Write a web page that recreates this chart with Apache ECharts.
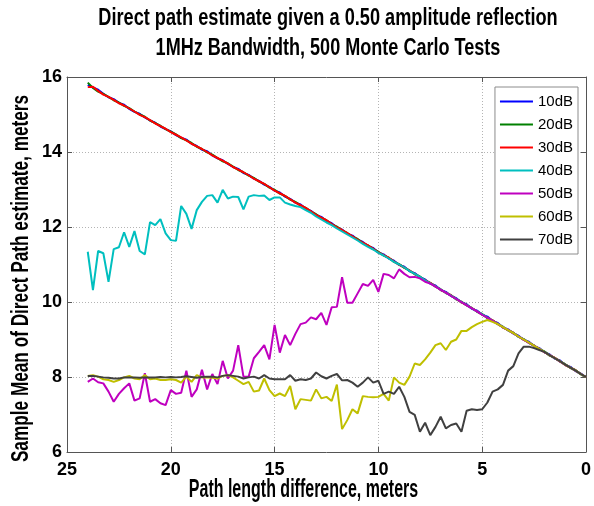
<!DOCTYPE html>
<html><head><meta charset="utf-8">
<script src="https://cdn.jsdelivr.net/npm/echarts@6/dist/echarts.min.js"></script>
<style>html,body{margin:0;padding:0;background:#fff}#c{width:594px;height:506px}</style>
</head><body><div id="c"></div>
<script>
// Path length difference (meters), one entry per Monte Carlo point
const pathDiff = [
  24,23.75,23.5,23.25,23,22.75,22.5,22.25,22,21.75,
  21.5,21.25,21,20.75,20.5,20.25,20,19.75,19.5,19.25,
  19,18.75,18.5,18.25,18,17.75,17.5,17.25,17,16.75,
  16.5,16.25,16,15.75,15.5,15.25,15,14.75,14.5,14.25,
  14,13.75,13.5,13.25,13,12.75,12.5,12.25,12,11.75,
  11.5,11.25,11,10.75,10.5,10.25,10,9.75,9.5,9.25,
  9,8.75,8.5,8.25,8,7.75,7.5,7.25,7,6.75,
  6.5,6.25,6,5.75,5.5,5.25,5,4.75,4.5,4.25,
  4,3.75,3.5,3.25,3,2.75,2.5,2.25,2,1.75,
  1.5,1.25,1,0.75,0.5,0.25,0
];
const snr10 = [
  15.79,15.72,15.66,15.55,15.46,15.41,15.31,15.26,15.15,15.07,
  15.02,14.92,14.84,14.78,14.68,14.61,14.55,14.45,14.38,14.33,
  14.22,14.16,14.06,14.02,13.91,13.83,13.78,13.68,13.60,13.55,
  13.44,13.39,13.29,13.23,13.13,13.07,12.97,12.92,12.81,12.75,
  12.65,12.60,12.49,12.43,12.32,12.27,12.16,12.10,11.99,11.93,
  11.82,11.77,11.66,11.60,11.49,11.44,11.32,11.27,11.16,11.10,
  10.99,10.94,10.82,10.77,10.66,10.60,10.49,10.44,10.32,10.27,
  10.16,10.10,9.99,9.94,9.82,9.77,9.66,9.61,9.49,9.44,
  9.32,9.27,9.16,9.10,8.99,8.94,8.82,8.77,8.66,8.60,
  8.49,8.44,8.32,8.27,8.16,8.09,8.00
];
const snr20 = [
  15.85,15.71,15.61,15.55,15.47,15.38,15.32,15.23,15.17,15.08,
  15.00,14.94,14.84,14.77,14.70,14.61,14.54,14.47,14.37,14.31,
  14.24,14.14,14.08,13.99,13.93,13.84,13.75,13.70,13.61,13.52,
  13.46,13.37,13.31,13.21,13.15,13.05,12.99,12.89,12.83,12.73,
  12.67,12.57,12.51,12.41,12.34,12.24,12.18,12.07,12.01,11.91,
  11.84,11.74,11.68,11.57,11.51,11.41,11.34,11.24,11.18,11.07,
  11.01,10.91,10.84,10.74,10.68,10.57,10.51,10.41,10.34,10.24,
  10.18,10.07,10.01,9.91,9.84,9.74,9.68,9.57,9.51,9.41,
  9.34,9.24,9.18,9.07,9.01,8.91,8.84,8.74,8.68,8.57,
  8.51,8.41,8.34,8.24,8.18,8.07,8.00
];
const snr30 = [
  15.73,15.74,15.63,15.53,15.47,15.39,15.30,15.24,15.16,15.08,
  14.99,14.93,14.85,14.76,14.69,14.62,14.53,14.46,14.39,14.31,
  14.22,14.15,14.08,14.00,13.91,13.84,13.77,13.69,13.60,13.53,
  13.46,13.38,13.29,13.22,13.15,13.06,12.97,12.90,12.83,12.74,
  12.65,12.58,12.51,12.42,12.32,12.25,12.18,12.08,11.99,11.92,
  11.84,11.75,11.66,11.58,11.51,11.42,11.32,11.25,11.18,11.08,
  10.99,10.92,10.84,10.75,10.66,10.58,10.51,10.42,10.32,10.25,
  10.18,10.08,9.99,9.92,9.84,9.75,9.66,9.58,9.51,9.42,
  9.32,9.25,9.18,9.08,8.99,8.92,8.84,8.75,8.66,8.58,
  8.51,8.42,8.32,8.25,8.18,8.08,8.00
];
const snr40 = [
  11.34,10.32,11.36,11.30,10.54,11.41,11.46,11.86,11.47,11.89,
  11.36,11.27,12.13,12.05,12.21,11.83,11.65,11.63,12.56,12.35,
  11.95,12.45,12.67,12.83,12.85,12.65,12.99,12.76,12.81,12.80,
  12.47,12.81,12.85,12.83,12.84,12.72,12.79,12.79,12.65,12.60,
  12.56,12.53,12.45,12.38,12.28,12.20,12.12,12.05,11.96,11.88,
  11.80,11.72,11.64,11.55,11.47,11.40,11.31,11.24,11.16,11.07,
  11.00,10.92,10.83,10.75,10.67,10.58,10.50,10.42,10.33,10.25,
  10.17,10.08,10.00,9.92,9.83,9.75,9.67,9.58,9.50,9.42,
  9.33,9.25,9.17,9.08,9.00,8.92,8.83,8.75,8.67,8.58,
  8.50,8.42,8.33,8.25,8.17,8.08,8.00
];
const snr50 = [
  7.87,7.96,7.86,7.83,7.61,7.34,7.55,7.70,7.83,7.37,
  7.43,8.10,7.34,7.41,7.30,7.25,7.65,7.55,7.58,8.17,
  7.47,7.67,8.19,7.67,8.08,7.81,8.43,7.96,8.17,8.85,
  8.01,8.01,8.50,8.67,8.85,8.47,9.39,8.65,9.12,8.85,
  9.15,9.41,9.45,9.59,9.54,9.71,9.39,9.86,9.87,10.66,
  9.98,9.98,10.23,10.48,10.43,10.59,10.27,10.75,10.72,10.63,
  10.87,10.75,10.66,10.67,10.63,10.54,10.49,10.41,10.33,10.25,
  10.16,10.08,10.00,9.91,9.83,9.75,9.66,9.58,9.50,9.41,
  9.33,9.25,9.16,9.08,9.00,8.91,8.83,8.75,8.66,8.58,
  8.50,8.41,8.33,8.25,8.16,8.08,8.00
];
const snr60 = [
  8.03,8.05,8.01,7.94,7.92,7.87,7.92,7.99,8.03,7.96,
  7.94,8.05,7.94,7.96,7.92,7.92,7.94,7.92,7.85,8.01,
  7.87,8.05,7.99,7.99,7.98,7.96,8.03,8.05,7.99,7.90,
  7.81,7.87,7.61,7.64,7.96,7.65,7.49,7.56,7.49,7.76,
  7.14,7.41,7.39,7.37,7.67,7.43,7.47,7.36,7.80,6.61,
  6.85,7.14,7.03,7.49,7.47,7.46,7.47,7.55,7.37,7.99,
  7.85,7.79,8.01,8.36,8.32,8.47,8.65,8.85,8.90,8.72,
  8.94,9.00,9.23,9.23,9.33,9.41,9.47,9.52,9.47,9.41,
  9.33,9.25,9.17,9.08,9.00,8.92,8.83,8.75,8.67,8.58,
  8.50,8.42,8.33,8.25,8.17,8.08,8.00
];
const snr70 = [
  8.03,8.03,8.01,7.99,7.98,7.96,7.96,7.99,7.99,7.99,
  7.98,7.99,7.99,7.99,8.00,7.99,8.00,7.99,8.00,8.02,
  8.00,7.98,8.00,8.01,8.01,7.99,8.03,8.05,8.03,8.01,
  7.96,7.99,8.01,7.96,8.05,7.96,7.94,7.94,7.94,8.05,
  7.90,7.94,7.92,7.96,8.12,8.02,7.96,8.03,8.08,7.91,
  7.92,7.85,7.74,7.85,7.99,7.85,7.90,7.55,7.61,7.55,
  7.74,7.47,7.07,6.99,6.54,6.78,6.45,6.67,6.94,6.63,
  6.72,6.76,6.54,7.10,7.14,7.12,7.14,7.32,7.61,7.67,
  7.79,8.17,8.29,8.63,8.81,8.81,8.77,8.72,8.67,8.58,
  8.50,8.42,8.33,8.25,8.17,8.08,8.00
];
const seriesNames = ['10dB','20dB','30dB','40dB','50dB','60dB','70dB'];
const seriesValues = [snr10, snr20, snr30, snr40, snr50, snr60, snr70];
const seriesColors = ['#0000ff','#008000','#ff0000','#00bfbf','#bf00bf','#bfbf00','#404040'];
const titleLines = ['Direct path estimate given a 0.50 amplitude reflection','1MHz Bandwidth, 500 Monte Carlo Tests'];
const xTitle = 'Path length difference, meters';
const yTitle = 'Sample Mean of Direct Path estimate, meters';

const WIDE = '"Liberation Sans",Arial,sans-serif';
const FRAME = '#555';

const chart = echarts.init(document.getElementById('c'), null, {renderer:'canvas'});
const axisCommon = {
  axisLine:{show:true,onZero:false,lineStyle:{color:FRAME,width:1}},
  axisTick:{show:true,inside:true,length:5,lineStyle:{color:FRAME}},
  minorTick:{show:false}
};
const option = {
  animation:false,
  backgroundColor:'#fff',
  grid:{left:67,right:5,top:77,bottom:54,containLabel:false},
  xAxis:[
    Object.assign({type:'value',min:0,max:25,interval:5,inverse:true,position:'bottom',
      axisLabel:{color:'#000',fontFamily:WIDE,fontWeight:'bold',fontSize:18,margin:9},
      splitLine:{show:true,lineStyle:{color:'#b4b4b4',type:[1,2],width:1}}}, axisCommon),
    Object.assign({type:'value',min:0,max:25,interval:5,inverse:true,position:'top',
      axisLabel:{show:false},splitLine:{show:false}}, axisCommon)
  ],
  yAxis:[
    Object.assign({type:'value',min:6,max:16,interval:2,position:'left',
      axisLabel:{color:'#000',fontFamily:WIDE,fontWeight:'bold',fontSize:18,margin:5},
      splitLine:{show:true,lineStyle:{color:'#b4b4b4',type:[1,2],width:1}}}, axisCommon),
    Object.assign({type:'value',min:6,max:16,interval:2,position:'right',
      axisLabel:{show:false},splitLine:{show:false}}, axisCommon)
  ],
  legend:{
    data:seriesNames, orient:'vertical', right:16, top:87,
    itemWidth:33, itemHeight:14, itemGap:8, padding:[7,5,7,5],
    borderColor:'#8c8c8c', borderWidth:1, backgroundColor:'#fff',
    textStyle:{color:'#000',fontFamily:WIDE,fontSize:15},
    icon:'path://M0,6L34,6L34,8L0,8Z'
  },
  series: seriesNames.map((name,k)=>({
    name:name, type:'line', xAxisIndex:0, yAxisIndex:0,
    data: pathDiff.map((x,i)=>[x, seriesValues[k][i]]),
    showSymbol:false, symbol:'none', smooth:false,
    lineStyle:{color:seriesColors[k],width:2},
    itemStyle:{color:seriesColors[k]},
    emphasis:{disabled:true}
  })),
  graphic:[
    {type:'text',x:328,y:18.5,scaleX:0.79,style:{text:titleLines[0],font:'bold 23px '+WIDE,fill:'#000',align:'center',verticalAlign:'middle'}},
    {type:'text',x:328,y:48.4,scaleX:0.785,style:{text:titleLines[1],font:'bold 23px '+WIDE,fill:'#000',align:'center',verticalAlign:'middle'}},
    {type:'text',x:303.5,y:490,scaleX:0.64,style:{text:xTitle,font:'bold 25px '+WIDE,fill:'#000',align:'center',verticalAlign:'middle'}},
    {type:'text',x:21,y:278.5,rotation:Math.PI/2,scaleX:0.717,style:{text:yTitle,font:'bold 24px '+WIDE,fill:'#000',align:'center',verticalAlign:'middle'}}
  ]
};
chart.setOption(option);
</script></body></html>
